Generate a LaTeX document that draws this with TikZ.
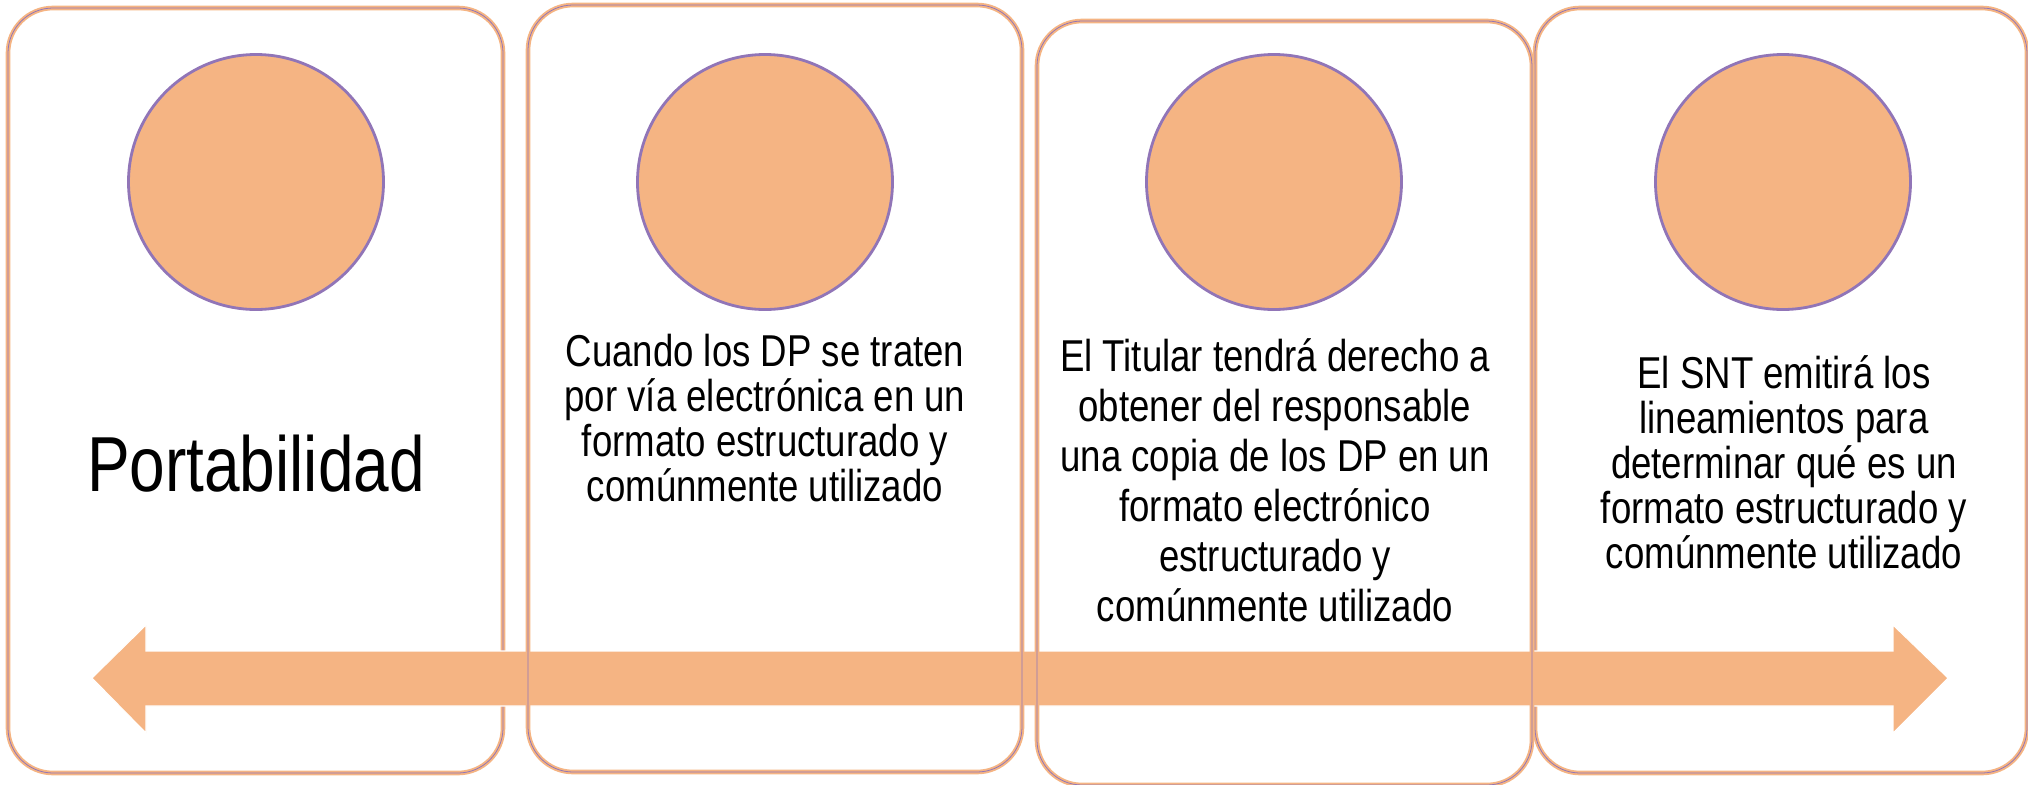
\documentclass[tikz,border=0pt]{standalone}
\usepackage{fontspec}
\setmainfont{Liberation Sans}[FakeStretch=0.82]
\definecolor{peach}{RGB}{245,180,131}
\definecolor{lilac}{RGB}{145,117,183}
\tikzset{
	card/.style={draw=peach, double=lilac, double distance=0.22pt, line width=0.55pt, rounded corners=0.45cm},
	disc/.style={circle, fill=peach, draw=lilac, line width=0.8pt, minimum size=2.55cm, inner sep=0pt},
	blurb/.style={align=center, inner sep=0pt, anchor=north, font=\fontsize{12.7}{12.8}\selectfont},
}
\begin{document}
\begin{tikzpicture}
	\useasboundingbox (0,0) rectangle (20.28,7.84);
	\draw [card] (0.08,0.11) rectangle (5.03,7.76);
	\draw [card] (15.35,0.11) rectangle (20.27,7.76);
	\fill [peach, draw=white, line width=0.3pt] (0.92,1.06) -- (1.46,1.59) -- (1.46,1.33) -- (18.93,1.33) -- (18.93,1.59) -- (19.48,1.06) -- (18.93,0.51) -- (18.93,0.78) -- (1.46,0.78) -- (1.46,0.51) -- cycle;
	\draw [card] (5.28,0.12) rectangle (10.22,7.79);
	\draw [card] (10.37,-0.01) rectangle (15.32,7.63);
	\foreach \x [count=\i] in {2.56,7.65,12.74,17.83}
		\node [disc] (c\i) at (\x,6.02) {};
	\node [anchor=base, inner sep=0pt, font=\fontsize{22.2}{24}\selectfont] (t1) at (2.56,2.93) {Portabilidad};
	\node [blurb] (t2) at (7.65,4.51) {Cuando los DP se traten\\por vía electrónica en un\\formato estructurado y\\comúnmente utilizado};
	\node [blurb, font=\fontsize{12.7}{14.2}\selectfont] (t3) at (12.75,4.46) {El Titular tendrá derecho a\\obtener del responsable\\una copia de los DP en un\\formato electrónico\\estructurado y\\comúnmente utilizado};
	\node [blurb] (t4) at (17.84,4.29) {El SNT emitirá los\\lineamientos para\\determinar qué es un\\formato estructurado y\\comúnmente utilizado};
\end{tikzpicture}
\end{document}
